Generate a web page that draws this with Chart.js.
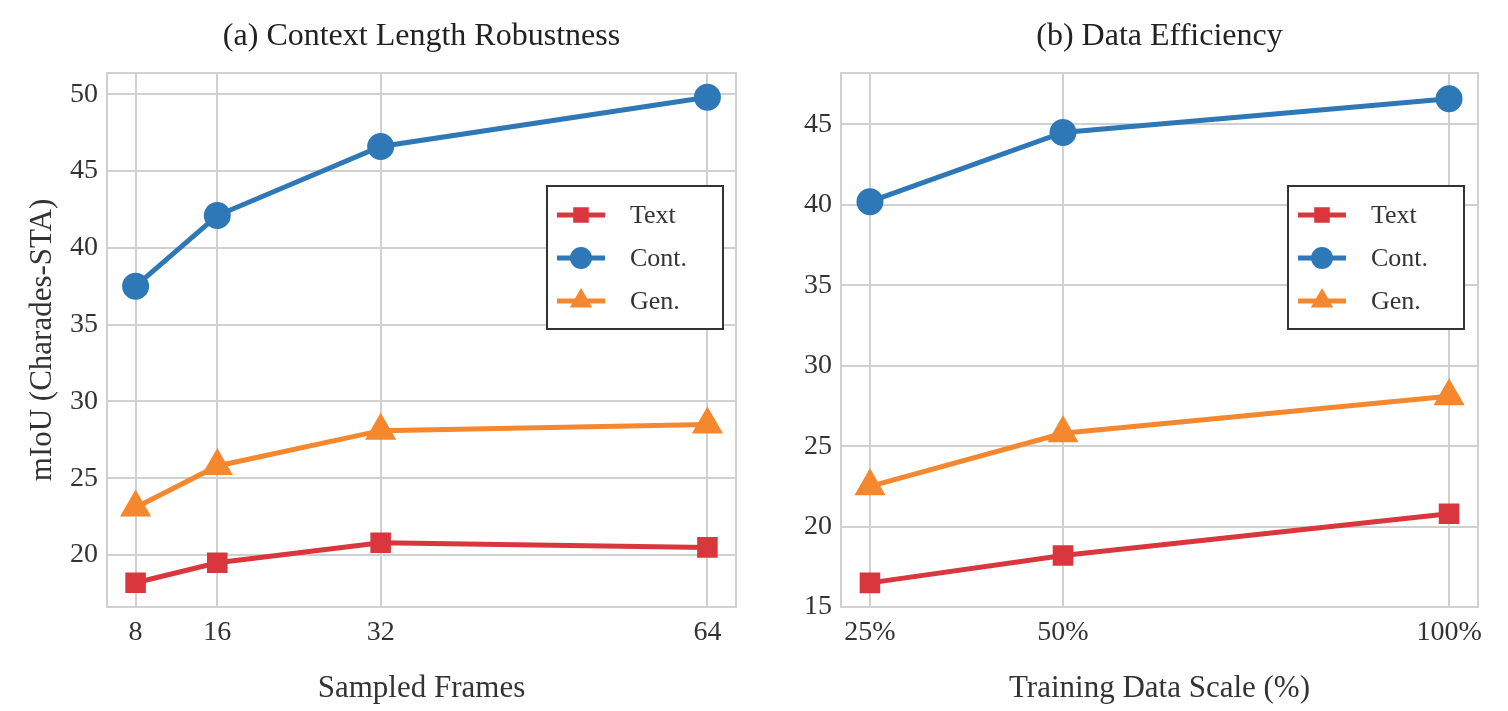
<!DOCTYPE html>
<html><head><meta charset="utf-8">
<script src="https://cdn.jsdelivr.net/npm/chart.js@4.4.4/dist/chart.umd.min.js"></script>
<style>
body{margin:0;background:#fff;width:1508px;height:711px;overflow:hidden;display:flex}
canvas{display:block}
</style></head><body>
<canvas id="a" width="754" height="711"></canvas>
<canvas id="b" width="754" height="711"></canvas>
<script>
const framesX = [8, 16, 32, 64];
const framesText = [18.2, 19.5, 20.8, 20.5];
const framesCont = [37.5, 42.1, 46.6, 49.8];
const framesGen = [23.1, 25.8, 28.1, 28.5];

const scaleX = [25, 50, 100];
const scaleText = [16.5, 18.2, 20.8];
const scaleCont = [40.2, 44.5, 46.6];
const scaleGen = [22.5, 25.8, 28.1];

const RED = '#d9363e', BLUE = '#2e78b7', ORANGE = '#f5872e';
const FONT = "'Liberation Serif', 'DejaVu Serif', serif";
const GRID = '#d0d0d0';

function series(xs, ys) { return xs.map((x, i) => ({ x, y: ys[i] })); }
function ds(label, data, color, style, r) {
  return { label, data, borderColor: color, backgroundColor: color, borderWidth: 5,
    pointStyle: style, pointRadius: r, pointHoverRadius: r, tension: 0 };
}

const deco = {
  id: 'deco',
  afterDraw(chart, args, o) {
    const { ctx, chartArea: a } = chart;
    ctx.save();
    ctx.strokeStyle = GRID; ctx.lineWidth = 2;
    ctx.strokeRect(a.left, a.top, a.right - a.left, a.bottom - a.top);
    ctx.fillStyle = '#222';
    ctx.font = `32px ${FONT}`;
    ctx.textAlign = 'center'; ctx.textBaseline = 'middle';
    ctx.fillText(o.title, (a.left + a.right) / 2, 37);
    // legend
    const bx = a.right - o.lx, by = 186, bw = 176, bh = 143;
    ctx.fillStyle = '#fff'; ctx.fillRect(bx, by, bw, bh);
    ctx.strokeStyle = '#333'; ctx.lineWidth = 2; ctx.strokeRect(bx, by, bw, bh);
    chart.data.datasets.forEach((d, i) => {
      const y = by + 29 + i * 43;
      ctx.strokeStyle = d.borderColor; ctx.lineWidth = 5;
      ctx.beginPath(); ctx.moveTo(bx + 10, y); ctx.lineTo(bx + 58, y); ctx.stroke();
      ctx.fillStyle = d.borderColor;
      Chart.helpers.drawPoint(ctx, { pointStyle: d.pointStyle, radius: d.pointRadius, rotation: 0 }, bx + 34, y);
      ctx.fillStyle = '#333'; ctx.font = `26px ${FONT}`; ctx.textAlign = 'left';
      ctx.fillText(d.label, bx + 83, y + 1);
    });
    ctx.restore();
  }
};

function make(id, xs, t, c, g, opts) {
  new Chart(document.getElementById(id), {
    type: 'line',
    data: { datasets: [
      ds('Text', series(xs, t), RED, 'rect', 11),
      ds('Cont.', series(xs, c), BLUE, 'circle', 11),
      ds('Gen.', series(xs, g), ORANGE, 'triangle', 13)
    ] },
    options: {
      responsive: false, animation: false,
      layout: { padding: { top: 73, right: opts.padRight, left: opts.padLeft, bottom: 0 } },
      plugins: { legend: { display: false }, tooltip: { enabled: false }, deco: { title: opts.title, lx: opts.lx } },
      scales: {
        x: {
          type: 'linear', min: opts.xmin, max: opts.xmax,
          afterBuildTicks: s => { s.ticks = xs.map(v => ({ value: v })); },
          afterFit: s => { s.height = 104; },
          grid: { color: GRID, lineWidth: 2, drawTicks: false },
          border: { display: false },
          ticks: { color: '#333', font: { family: FONT, size: 28 }, padding: 9,
            callback: v => opts.pct ? v + '%' : v, maxRotation: 0 },
          title: { display: true, text: opts.xtitle, color: '#333', font: { family: FONT, size: 31 }, padding: { top: 0 } }
        },
        y: {
          min: opts.ymin, max: opts.ymax,
          afterBuildTicks: s => { s.ticks = opts.yticks.map(v => ({ value: v })); },
          afterFit: s => { s.width = opts.yw; },
          grid: { color: GRID, lineWidth: 2, drawTicks: false },
          border: { display: false },
          ticks: { color: '#333', font: { family: FONT, size: 28 }, padding: 9 },
          title: { display: !!opts.ytitle, text: opts.ytitle, color: '#333', font: { family: FONT, size: 31 }, padding: { bottom: 4 } }
        }
      }
    },
    plugins: [deco]
  });
}

make('a', framesX, framesText, framesCont, framesGen, {
  title: '(a) Context Length Robustness', xtitle: 'Sampled Frames', ytitle: 'mIoU (Charades-STA)',
  xmin: 5.2, xmax: 66.8, ymin: 16.62, ymax: 51.38, yticks: [20, 25, 30, 35, 40, 45, 50],
  yw: 87, padLeft: 20, padRight: 6, lx: 189, pct: false
});
make('b', scaleX, scaleText, scaleCont, scaleGen, {
  title: '(b) Data Efficiency', xtitle: 'Training Data Scale (%)', ytitle: '',
  xmin: 21.25, xmax: 103.75, ymin: 15, ymax: 48.2, yticks: [15, 20, 25, 30, 35, 40, 45],
  yw: 87, padLeft: 0, padRight: 30, lx: 190, pct: true
});
</script>
</body></html>
